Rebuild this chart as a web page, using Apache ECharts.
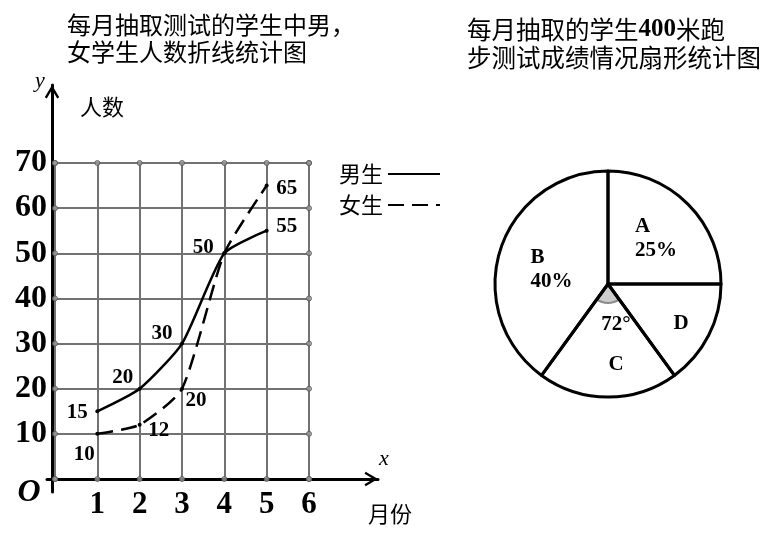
<!DOCTYPE html>
<html><head><meta charset="utf-8">
<script src="https://cdn.jsdelivr.net/npm/echarts@6/dist/echarts.min.js"></script>
<style>html,body{margin:0;padding:0;background:#fff}#c{width:779px;height:540px}</style>
</head><body><div id="c"></div>
<script>
// ---- data ----
const months = [1, 2, 3, 4, 5];
const xTicks = [0, 1, 2, 3, 4, 5, 6];
const yTicks = [0, 10, 20, 30, 40, 50, 60, 70];
const boys = [15, 20, 30, 50, 55];
const girls = [10, 12, 20, 50, 65];
const girlsLabelShown = [true, true, true, false, true];
const seriesNames = ['男生', '女生'];
const pieNames = ['A', 'D', 'C', 'B'];
const piePercents = [25, 15, 20, 40];
const lineTitleLines = ['每月抽取测试的学生中男，', '女学生人数折线统计图'];
const pieTitleParts = ['每月抽取的学生', '400', '米跑'];
const pieTitleLine2 = '步测试成绩情况扇形统计图';

// ---- style (offsets in px) ----
const boysLabelOffset = [[-20, 1], [-17, -11], [-20, -10], [-21, -6], [20, -4]];
const girlsLabelOffset = [[-13, 21], [19, 6], [14, 12], [0, 0], [20, 3]];
const pieLabelOffset = [[6, -3], [20, 13], [8, 1], [0, 4]];

const SERIF = '"Liberation Serif","Times New Roman",serif';
const CJK = '"Noto Sans CJK SC",sans-serif';
const arrowPath = 'path://M5,-9.3L5.01,-9.3L5,-9.29Z M5,0L10,8.5L8.6,9.3L5,3.2L1.4,9.3L0,8.5Z';

const chart = echarts.init(document.getElementById('c'), null, {renderer: 'canvas'});

const borderDots = [];
xTicks.forEach(x => { borderDots.push([x, yTicks[0]]); borderDots.push([x, yTicks[yTicks.length - 1]]); });
yTicks.forEach(y => { borderDots.push([xTicks[0], y]); borderDots.push([xTicks[xTicks.length - 1], y]); });

const lineLabel = {show: true, position: 'inside', color: '#000', fontFamily: SERIF, fontWeight: 'bold', fontSize: 21,
  formatter: p => p.value[1]};

chart.setOption({
  animation: false,
  backgroundColor: '#fff',
  title: [
    {text: lineTitleLines.join('\n'), left: 67, top: 11, padding: 0,
     textStyle: {fontFamily: CJK, fontSize: 24, fontWeight: 'normal', color: '#000', lineHeight: 27}},
    {text: '{c|' + pieTitleParts[0] + '}{n|' + pieTitleParts[1] + '}{c|' + pieTitleParts[2] + '}\n{c|' + pieTitleLine2 + '}',
     left: 467, top: 16, padding: 0,
     textStyle: {fontWeight: 'normal', rich: {
       c: {fontFamily: CJK, fontSize: 24.5, fontWeight: 'normal', color: '#000', lineHeight: 28},
       n: {fontFamily: SERIF, fontSize: 25, fontWeight: 'bold', color: '#000', lineHeight: 28}
     }}}
  ],
  legend: {
    orient: 'vertical', left: 334, top: 158, align: 'right',
    itemWidth: 52, itemHeight: 12, itemGap: 9,
    data: seriesNames,
    textStyle: {fontFamily: CJK, fontSize: 22, color: '#000'},
    itemStyle: {opacity: 0}
  },
  grid: [
    {left: 55, right: 470, top: 163, bottom: 61},
    {left: 47, right: 401, top: 85, bottom: 48}
  ],
  xAxis: [
    {gridIndex: 0, type: 'value', min: 0, max: 6, interval: 1,
     axisLine: {show: false}, axisTick: {show: false},
     axisLabel: {margin: 10, fontFamily: SERIF, fontWeight: 'bold', fontSize: 31, color: '#000',
                 formatter: v => (v === 0 ? '' : v)},
     splitLine: {show: true, lineStyle: {color: '#727272', width: 2}}},
    {gridIndex: 1, type: 'value', min: -0.118, max: 7.69,
     axisLine: {show: true, onZero: true, lineStyle: {color: '#000', width: 3},
                symbol: ['none', arrowPath], symbolSize: [15, 27]},
     axisTick: {show: false}, axisLabel: {show: false}, splitLine: {show: false}}
  ],
  yAxis: [
    {gridIndex: 0, type: 'value', min: 0, max: 70, interval: 10,
     axisLine: {show: false}, axisTick: {show: false},
     axisLabel: {margin: 8, fontFamily: SERIF, fontWeight: 'bold', fontSize: 32, color: '#000',
                 formatter: v => (v === 0 ? '' : v)},
     splitLine: {show: true, lineStyle: {color: '#727272', width: 2}}},
    {gridIndex: 1, type: 'value', min: -2.88, max: 87.28,
     axisLine: {show: true, onZero: true, lineStyle: {color: '#000', width: 3},
                symbol: ['none', arrowPath], symbolSize: [15, 27]},
     axisTick: {show: false}, axisLabel: {show: false}, splitLine: {show: false}}
  ],
  series: [
    {type: 'scatter', xAxisIndex: 0, yAxisIndex: 0, data: borderDots, symbolSize: 5, silent: true,
     itemStyle: {color: '#9a9a9a', borderColor: '#555', borderWidth: 1}, z: 2},
    {type: 'line', name: seriesNames[0], xAxisIndex: 0, yAxisIndex: 0,
     data: months.map((m, i) => [m, boys[i]]),
     smooth: 0.2, symbol: 'circle', symbolSize: 4, showSymbol: true,
     itemStyle: {color: '#000'}, lineStyle: {color: '#000', width: 2.5},
     label: lineLabel,
     labelLayout: p => ({dx: boysLabelOffset[p.dataIndex][0], dy: boysLabelOffset[p.dataIndex][1]}),
     z: 5},
    {type: 'line', name: seriesNames[1], xAxisIndex: 0, yAxisIndex: 0,
     data: months.map((m, i) => ({value: [m, girls[i]], label: {show: girlsLabelShown[i]}})),
     smooth: 0.2, symbol: 'circle', symbolSize: 4, showSymbol: true,
     itemStyle: {color: '#000'}, lineStyle: {color: '#000', width: 2.5, type: [16, 8]},
     label: lineLabel,
     labelLayout: p => ({dx: girlsLabelOffset[p.dataIndex][0], dy: girlsLabelOffset[p.dataIndex][1]}),
     z: 5},
    {type: 'pie', center: [608, 284], radius: [0, 19], startAngle: 90, clockwise: true, silent: true, z: 2,
     data: pieNames.map((n, i) => ({name: n, value: piePercents[i],
       itemStyle: n === 'C' ? {color: '#cdcdcd', borderColor: '#8a8a8a', borderWidth: 2}
                            : {color: 'rgba(0,0,0,0)', borderWidth: 0}})),
     label: {show: false}, labelLine: {show: false}},
    {type: 'pie', center: [608, 284], radius: [0, 113], startAngle: 90, clockwise: true, silent: true, z: 3,
     avoidLabelOverlap: false,
     data: pieNames.map((n, i) => ({name: n, value: piePercents[i]})),
     itemStyle: {color: 'rgba(255,255,255,0)', borderColor: '#000', borderWidth: 3},
     label: {show: true, position: 'inside', color: '#000', lineHeight: 20,
       formatter: p => {
         if (p.name === 'D') return '{t|' + p.name + '}';
         if (p.name === 'C') return '{t|' + Math.round(p.percent * 3.6) + '°}\n{g| }\n{t|' + p.name + '}';
         return '{l|' + p.name + '}\n{l|' + p.percent + '%}';
       },
       rich: {
         t: {fontFamily: SERIF, fontWeight: 'bold', fontSize: 21, color: '#000', lineHeight: 20},
         g: {fontFamily: SERIF, fontSize: 10, color: '#000', lineHeight: 20},
         l: {fontFamily: SERIF, fontWeight: 'bold', fontSize: 21, color: '#000', lineHeight: 24, align: 'left'}
       }},
     labelLine: {show: false},
     labelLayout: p => ({dx: pieLabelOffset[p.dataIndex][0], dy: pieLabelOffset[p.dataIndex][1]})}
  ],
  graphic: [
    {type: 'text', x: 40, y: 81, style: {text: 'y', font: 'italic 22px ' + SERIF, fill: '#000', textAlign: 'center', textVerticalAlign: 'middle'}},
    {type: 'text', x: 80, y: 107, style: {text: '人数', font: '22px ' + CJK, fill: '#000', textAlign: 'left', textVerticalAlign: 'middle'}},
    {type: 'text', x: 29, y: 493, style: {text: 'O', font: 'italic bold 32px ' + SERIF, fill: '#000', textAlign: 'center', textVerticalAlign: 'middle'}},
    {type: 'text', x: 384, y: 459, style: {text: 'x', font: 'italic 22px ' + SERIF, fill: '#000', textAlign: 'center', textVerticalAlign: 'middle'}},
    {type: 'text', x: 368, y: 514, style: {text: '月份', font: '22px ' + CJK, fill: '#000', textAlign: 'left', textVerticalAlign: 'middle'}}
  ]
});
</script>
</body></html>
